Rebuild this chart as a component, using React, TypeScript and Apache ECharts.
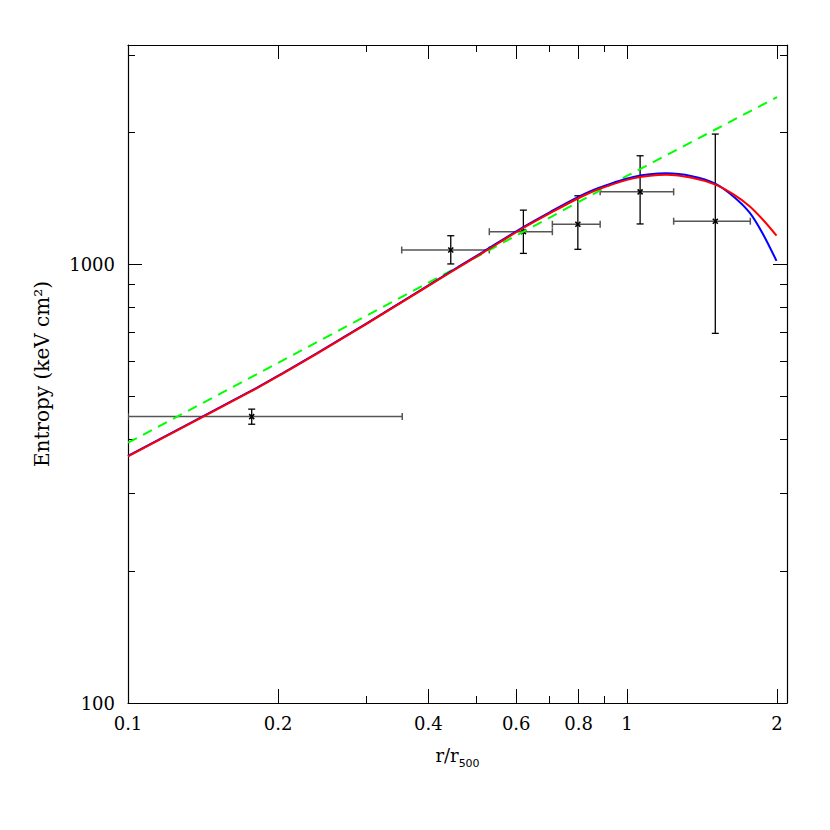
import React, { useEffect, useRef } from "react";
import * as echarts from "echarts";

// Tick values (data space)
const xLabelTicks = [0.1, 0.2, 0.4, 0.6, 0.8, 1, 2];
const xMinorTicks = [0.3, 0.5, 0.7, 0.9];
const yLabelTicks = [100, 1000];
const yMinorTicks = [200, 300, 400, 500, 600, 700, 800, 900, 2000, 3000];

// Data points with error bars
const pointX = [0.177, 0.4436, 0.6202, 0.7975, 1.063, 1.504];
const pointY = [449.6, 1078, 1187, 1234, 1463, 1254];
const xLow = [0.1, 0.3537, 0.53, 0.709, 0.884, 1.241];
const xHigh = [0.3546, 0.53, 0.709, 0.884, 1.241, 1.768];
const yLow = [432, 1002, 1059, 1082, 1236, 696];
const yHigh = [467.6, 1162, 1329, 1433, 1768, 1981];

// Model curves
const curveX = [0.1, 0.1756, 0.2047, 0.2389, 0.2786, 0.3249, 0.379, 0.4418, 0.5152, 0.62, 0.7018, 0.805, 0.883, 1.03, 1.2, 1.35, 1.5, 1.633, 1.764, 1.876, 1.995];
const redY = [365, 511.7, 564.5, 625.2, 693.9, 771.7, 859.4, 956.8, 1063.6, 1210, 1308, 1420, 1487, 1570, 1600, 1575, 1521, 1445, 1355, 1262, 1163];
const blueY = [366, 513, 566, 627, 696, 774, 862, 960, 1068, 1216, 1316, 1430, 1497, 1582, 1612, 1588, 1530, 1430, 1310, 1170, 1018];
const greenX = [0.1, 0.2, 0.5, 1, 2];
const greenY = [392, 596, 1040, 1590, 2405];

const X_MIN = 0.1;
const X_MAX = 2.094;
const Y_MIN = 100;
const Y_MAX = 3162;

const L = (v: number) => Math.log10(v);
const fmt = (v: number) => String(Number(Math.pow(10, v).toPrecision(6)));

const FONT = "DejaVu Serif";

export default function App() {
  const ref = useRef<HTMLDivElement>(null);

  useEffect(() => {
    if (!ref.current) return;
    const chart = echarts.init(ref.current, undefined, { renderer: "svg" });

    const axisLine = { show: true, onZero: false, lineStyle: { color: "#000", width: 1.2 } };
    const noLine = { show: false, onZero: false };
    const tickStyle = { color: "#000", width: 1 };

    const xBase = {
      type: "value" as const,
      min: L(X_MIN),
      max: L(X_MAX),
      splitLine: { show: false },
    };
    const yBase = {
      type: "value" as const,
      min: L(Y_MIN),
      max: L(Y_MAX),
      splitLine: { show: false },
    };

    const errData = pointX.map((x, i) => [
      L(x),
      L(pointY[i]),
      L(xLow[i]),
      L(xHigh[i]),
      L(yLow[i]),
      L(yHigh[i]),
    ]);

    const option: any = {
      animation: false,
      backgroundColor: "#fff",
      grid: { left: 128, right: 43, top: 45, bottom: 127 },
      xAxis: [
        {
          ...xBase,
          position: "bottom",
          axisLine,
          axisTick: { show: true, inside: true, length: 14, customValues: xLabelTicks.map(L), lineStyle: tickStyle },
          axisLabel: {
            show: true,
            customValues: xLabelTicks.map(L),
            formatter: (v: number) => fmt(v),
            fontFamily: FONT,
            fontSize: 18,
            color: "#000",
            margin: 11,
          },
          name: "{a|r/r}{b|500}",
          nameLocation: "middle",
          nameGap: 38,
          nameTextStyle: {
            rich: {
              a: { fontFamily: FONT, fontSize: 18, color: "#000", lineHeight: 26, verticalAlign: "middle" },
              b: { fontFamily: "DejaVu Sans", fontSize: 11, color: "#000", lineHeight: 28, verticalAlign: "bottom" },
            },
          },
        },
        {
          ...xBase,
          position: "bottom",
          axisLine: noLine,
          axisTick: { show: true, inside: true, length: 7, customValues: xMinorTicks.map(L), lineStyle: tickStyle },
          axisLabel: { show: false },
        },
        {
          ...xBase,
          position: "top",
          axisLine,
          axisTick: { show: true, inside: true, length: 14, customValues: xLabelTicks.map(L), lineStyle: tickStyle },
          axisLabel: { show: false },
        },
        {
          ...xBase,
          position: "top",
          axisLine: noLine,
          axisTick: { show: true, inside: true, length: 7, customValues: xMinorTicks.map(L), lineStyle: tickStyle },
          axisLabel: { show: false },
        },
      ],
      yAxis: [
        {
          ...yBase,
          position: "left",
          axisLine,
          axisTick: { show: true, inside: true, length: 14, customValues: yLabelTicks.map(L), lineStyle: tickStyle },
          axisLabel: {
            show: true,
            customValues: yLabelTicks.map(L),
            formatter: (v: number) => fmt(v),
            fontFamily: FONT,
            fontSize: 18,
            color: "#000",
            margin: 13,
          },
          name: "Entropy (keV cm²)",
          nameLocation: "middle",
          nameGap: 76,
          nameTextStyle: { fontFamily: FONT, fontSize: 20, color: "#000" },
        },
        {
          ...yBase,
          position: "left",
          axisLine: noLine,
          axisTick: { show: true, inside: true, length: 7, customValues: yMinorTicks.map(L), lineStyle: tickStyle },
          axisLabel: { show: false },
        },
        {
          ...yBase,
          position: "right",
          axisLine,
          axisTick: { show: true, inside: true, length: 14, customValues: yLabelTicks.map(L), lineStyle: tickStyle },
          axisLabel: { show: false },
        },
        {
          ...yBase,
          position: "right",
          axisLine: noLine,
          axisTick: { show: true, inside: true, length: 7, customValues: yMinorTicks.map(L), lineStyle: tickStyle },
          axisLabel: { show: false },
        },
      ],
      series: [
        {
          type: "custom",
          xAxisIndex: 0,
          yAxisIndex: 0,
          clip: true,
          z: 2,
          data: errData,
          encode: { x: [0, 2, 3], y: [1, 4, 5] },
          renderItem: (params: any, api: any) => {
            const x = api.value(0);
            const y = api.value(1);
            const c = api.coord([x, y]);
            const pl = api.coord([api.value(2), y]);
            const ph = api.coord([api.value(3), y]);
            const pb = api.coord([x, api.value(4)]);
            const pt = api.coord([x, api.value(5)]);
            const cap = 3.5;
            const m = 2.5;
            const hStyle = { stroke: "#555", lineWidth: 1.5 };
            const vStyle = { stroke: "#000", lineWidth: 1.3 };
            const mStyle = { stroke: "#000", lineWidth: 1.6 };
            return {
              type: "group",
              children: [
                { type: "line", shape: { x1: pl[0], y1: c[1], x2: ph[0], y2: c[1] }, style: hStyle },
                { type: "line", shape: { x1: pl[0], y1: c[1] - cap, x2: pl[0], y2: c[1] + cap }, style: hStyle },
                { type: "line", shape: { x1: ph[0], y1: c[1] - cap, x2: ph[0], y2: c[1] + cap }, style: hStyle },
                { type: "line", shape: { x1: c[0], y1: pt[1], x2: c[0], y2: pb[1] }, style: vStyle },
                { type: "line", shape: { x1: c[0] - cap, y1: pt[1], x2: c[0] + cap, y2: pt[1] }, style: vStyle },
                { type: "line", shape: { x1: c[0] - cap, y1: pb[1], x2: c[0] + cap, y2: pb[1] }, style: vStyle },
                { type: "line", shape: { x1: c[0] - m, y1: c[1] - m, x2: c[0] + m, y2: c[1] + m }, style: mStyle },
                { type: "line", shape: { x1: c[0] - m, y1: c[1] + m, x2: c[0] + m, y2: c[1] - m }, style: mStyle },
              ],
            };
          },
        },
        {
          type: "line",
          xAxisIndex: 0,
          yAxisIndex: 0,
          z: 3,
          showSymbol: false,
          data: greenX.map((x, i) => [L(x), L(greenY[i])]),
          lineStyle: { color: "#00ff00", width: 2, type: [10, 7] },
        },
        {
          type: "line",
          xAxisIndex: 0,
          yAxisIndex: 0,
          z: 4,
          showSymbol: false,
          smooth: 0.3,
          data: curveX.map((x, i) => [L(x), L(blueY[i])]),
          lineStyle: { color: "#0000ff", width: 2 },
        },
        {
          type: "line",
          xAxisIndex: 0,
          yAxisIndex: 0,
          z: 5,
          showSymbol: false,
          smooth: 0.3,
          data: curveX.map((x, i) => [L(x), L(redY[i])]),
          lineStyle: { color: "#ff0000", width: 2 },
        },
      ],
    };

    chart.setOption(option);
    return () => chart.dispose();
  }, []);

  return (
    <div
      ref={ref}
      style={{ position: "fixed", left: 0, top: 0, width: 830, height: 830, background: "#fff" }}
    />
  );
}
